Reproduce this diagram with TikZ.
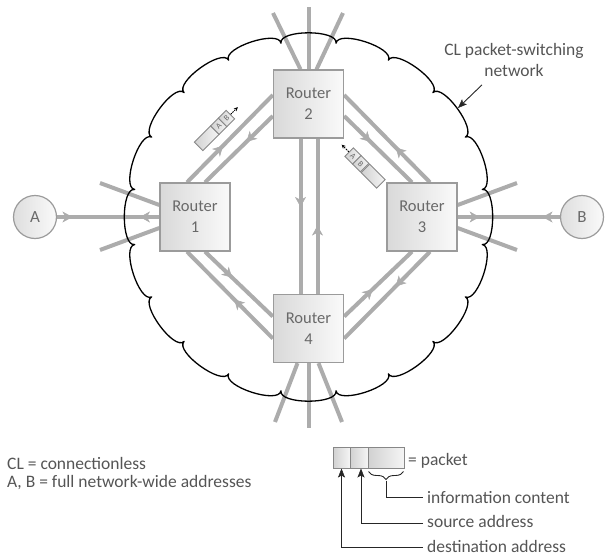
\documentclass[tikz,border=0pt]{standalone}
\usepackage{fontspec}
\setmainfont{Carlito}
\usetikzlibrary{calc,arrows.meta,decorations.markings,decorations.pathreplacing}

\definecolor{linkgray}{RGB}{172,172,172}
\definecolor{boxedge}{RGB}{155,155,155}
\definecolor{cellgray}{RGB}{135,135,135}
\definecolor{labelgray}{RGB}{105,105,105}
\definecolor{textgray}{RGB}{85,85,85}

\pgfdeclarelayer{background}
\pgfsetlayers{background,main}

\tikzset{
  linktip/.tip={Stealth[length=10pt,width=11pt,inset=3pt,line width=0.5pt]},
  pointer/.tip={Stealth[length=9pt,width=7pt,inset=2pt,line width=0.5pt]},
  link/.style={draw=linkgray, line width=4pt},
  flow/.style={link, postaction={decorate},
    decoration={markings, mark=at position #1 with {\arrow[linkgray]{linktip}}}},
  twoway/.style 2 args={link, postaction={decorate},
    decoration={markings,
      mark=at position #1 with {\arrow[linkgray]{linktip}},
      mark=at position #2 with {\arrowreversed[linkgray]{linktip}}}},
  router/.style={draw=boxedge, line width=1.3pt, left color=black!15, right color=black!2,
    minimum width=70pt, minimum height=68pt, inner sep=0pt, align=center,
    font=\fontsize{16.5}{21}\selectfont, text=labelgray},
  host/.style={circle, draw=boxedge, line width=1.2pt, left color=black!13, right color=black!2,
    minimum size=43pt, inner sep=0pt, font=\fontsize{17}{17}\selectfont, text=labelgray},
  cloudedge/.style={draw=black, line width=1.3pt, line join=round},
  pcell/.style={draw=cellgray, line width=0.9pt, inner sep=0pt, minimum height=12pt,
    left color=black!18, right color=black!4, font=\fontsize{8}{8}\selectfont, text=labelgray},
  cell/.style={draw=cellgray, line width=1pt, inner sep=0pt, minimum height=21pt,
    left color=black!18, right color=black!4},
  mover/.style={draw=black, line width=0.8pt, dash pattern=on 1.5pt off 1pt,
    -{Stealth[length=4pt,width=4pt]}},
  legendtext/.style={inner sep=0pt, text=textgray, font=\fontsize{17.5}{21}\selectfont},
  pen/.style={draw=black!85, line width=0.9pt},
}

\begin{document}
\begin{tikzpicture}[x=1pt, y=-1pt]
\useasboundingbox (0,0) rectangle (606,557);
\coordinate (C) at (308.5,217);

% routers and end hosts
\node[router] (r1) at (195,217) {Router\\1};
\node[router] (r2) at (308.5,104) {Router\\2};
\node[router] (r3) at (422,217) {Router\\3};
\node[router] (r4) at (308.5,328.5) {Router\\4};
\node[host] (A) at (35,217) {A};
\node[host] (B) at (582,217) {B};

% free ends of the links that leave the network
\coordinate (s1a) at (100,183);
\coordinate (s1b) at (100,250);
\coordinate (s3a) at (517,183);
\coordinate (s3b) at (517,250);
\coordinate (s2a) at (273,13);
\coordinate (s2b) at (308.5,7);
\coordinate (s2c) at (343,13);
\coordinate (s4a) at (275,422);
\coordinate (s4b) at (308.5,428);
\coordinate (s4c) at (342,422);

\begin{pgfonlayer}{background}
  % links between routers, one line per direction
  \draw[flow=0.42] ($(r1.north)+(-8,0)$) -- ($(r2.west)+(0,-9)$);
  \draw[flow=0.39] ($(r2.west)+(0,12)$) -- ($(r1.north)+(10,0)$);
  \draw[flow=0.39] ($(r2.east)+(0,12)$) -- ($(r3.north)+(-10,0)$);
  \draw[flow=0.40] ($(r3.north)+(8,0)$) -- ($(r2.east)+(0,-9)$);
  \draw[flow=0.40] ($(r1.south)+(10,0)$) -- ($(r4.west)+(0,-12)$);
  \draw[flow=0.45] ($(r4.west)+(0,10)$) -- ($(r1.south)+(-8,0)$);
  \draw[flow=0.42] ($(r4.east)+(0,-12)$) -- ($(r3.south)+(-10,0)$);
  \draw[flow=0.40] ($(r3.south)+(8,0)$) -- ($(r4.east)+(0,10)$);
  \draw[flow=0.44] ($(r2.south)+(-8,0)$) -- ($(r4.north)+(-8,0)$);
  \draw[flow=0.44] ($(r4.north)+(9,0)$) -- ($(r2.south)+(9,0)$);
  % access links
  \draw[twoway={0.15}{0.81}] (A) -- (r1);
  \draw[twoway={0.215}{0.83}] (r3) -- (B);
  % links to the rest of the network
  \draw[link] ($(r1.west)+(0,-12)$) -- (s1a);
  \draw[link] ($(r1.west)+(0,11)$) -- (s1b);
  \draw[link] ($(r3.east)+(0,-12)$) -- (s3a);
  \draw[link] ($(r3.east)+(0,11)$) -- (s3b);
  \draw[link] ($(r2.north)+(-8,0)$) -- (s2a);
  \draw[link] (r2.north) -- (s2b);
  \draw[link] ($(r2.north)+(8,0)$) -- (s2c);
  \draw[link] ($(r4.south)+(-11,0)$) -- (s4a);
  \draw[link] (r4.south) -- (s4b);
  \draw[link] ($(r4.south)+(10,0)$) -- (s4c);
\end{pgfonlayer}

% network cloud: twenty scallops
\draw[cloudedge] ($(C)+(9:176)$)
  \foreach \i in {0,...,19} {
    .. controls ($(C)+({9+18*\i}:190)$) and ($(C)+({27+18*\i}:190)$) .. ($(C)+({27+18*\i}:176)$)
  } -- cycle;

% packet travelling from router 1 to router 2
\begin{scope}[shift={(214.5,130.5)}, rotate=45]
  \node[pcell, transform shape, minimum width=23pt] (p1i) at (-11,0) {};
  \node[pcell, transform shape, minimum width=11pt] (p1a) at (6,0) {A};
  \node[pcell, transform shape, minimum width=11pt] (p1b) at (17,0) {B};
  \coordinate (p1go) at (33,0);
\end{scope}
\draw[mover] (p1b.east) -- (p1go);

% packet travelling from router 3 to router 2
\begin{scope}[shift={(365,168)}, rotate=-45]
  \node[pcell, transform shape, minimum width=11pt] (p2a) at (-17,0) {A};
  \node[pcell, transform shape, minimum width=11pt] (p2b) at (-6,0) {B};
  \node[pcell, transform shape, minimum width=22pt] (p2i) at (11.5,0) {};
  \coordinate (p2go) at (-33,0);
\end{scope}
\draw[mover] (p2a.west) -- (p2go);

% network label
\node[legendtext, align=center] (clnet) at (514,60) {CL packet-switching\\network};
\coordinate (cloudpt) at (458,108);
\draw[pen, -{pointer}] ($(clnet.south)+(-32,8)$) -- (cloudpt);

% key
\node[legendtext, anchor=base west] (defCL) at (7,469) {CL = connectionless};
\node[legendtext, anchor=base west] (defAB) at (7,487) {A, B = full network-wide addresses};

\node[cell, minimum width=17pt] (pd) at (341.5,457.5) {};
\node[cell, minimum width=18pt] (ps) at (359,457.5) {};
\node[cell, minimum width=36pt] (pi) at (386,457.5) {};
\node[legendtext, anchor=base west] (eqP) at (408,465) {= packet};
\node[legendtext, anchor=base west] (infoT) at (427,503) {information content};
\node[legendtext, anchor=base west] (srcT) at (427,527) {source address};
\node[legendtext, anchor=base west] (dstT) at (427,552) {destination address};

\draw[pen, decorate, decoration={brace, amplitude=8pt}]
  ($(pi.south east)+(-1,3)$) -- ($(pi.south west)+(1,3)$);
\draw[pen] ($(pi.south)+(0,12)$) |- ($(infoT.base west)+(-4,-6)$);
\draw[pen, -{pointer}] ($(srcT.base west)+(-4,-4)$) -| ($(ps.south)+(2,0)$);
\draw[pen, -{pointer}] ($(dstT.base west)+(-4,-5)$) -| (pd.south);
\end{tikzpicture}
\end{document}
